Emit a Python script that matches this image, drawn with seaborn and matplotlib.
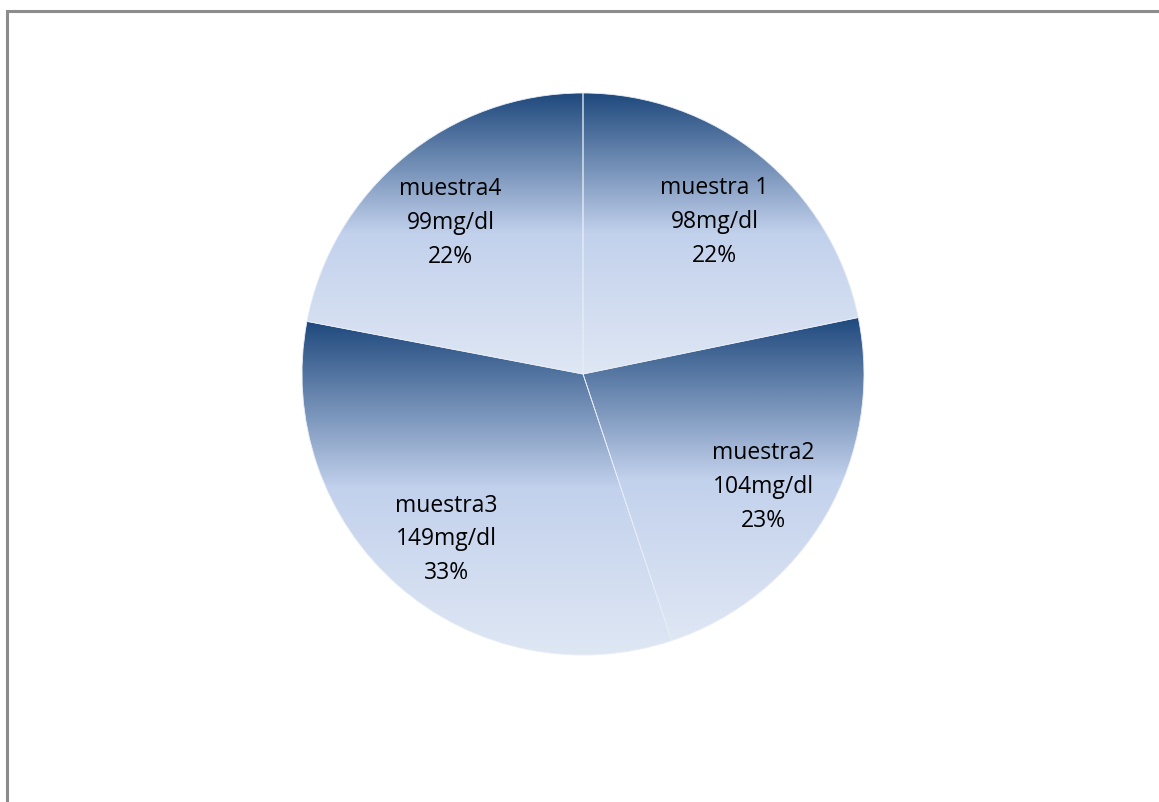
import matplotlib
matplotlib.use("Agg")
import matplotlib.pyplot as plt
import matplotlib.transforms as mtransforms
import numpy as np
import seaborn as sns

sns.set_style("white")
plt.rcParams['font.family'] = ['Open Sans', 'DejaVu Sans']

# data
samples = ['muestra 1', 'muestra2', 'muestra3', 'muestra4']
values = [98, 104, 149, 99]
units = 'mg/dl'

# vertical gradient used in each slice (dark top -> light bottom)
grad_cmap = sns.blend_palette(["#1F497D", "#C2D1EC", "#DFE7F4"], n_colors=256, as_cmap=True)

W, H = 1159, 803
fig = plt.figure(figsize=(W / 100, H / 100), dpi=100)
ax = fig.add_axes([0, 0, 1, 1])

cx, cy, r = 583, H - 375, 281
total = sum(values)
labels = [f"{s}\n{v}{units}\n{round(100 * v / total)}%" for s, v in zip(samples, values)]

wedges, texts = ax.pie(values, labels=labels, startangle=90, counterclock=False,
                       center=(cx, cy), radius=r, labeldistance=0.74,
                       wedgeprops=dict(facecolor='none', edgecolor='#E8EEF7', linewidth=0.6),
                       textprops=dict(fontsize=16.5, ha='center', va='center',
                                      linespacing=1.55, color='black'),
                       frame=True)
ax.set_xlim(0, W)
ax.set_ylim(0, H)
ax.set_aspect('equal')
ax.axis('off')

grad = np.linspace(0, 1, 256).reshape(-1, 1)
for w in wedges:
    bb = w.get_path().get_extents(w.get_patch_transform())
    im = ax.imshow(grad, cmap=grad_cmap, aspect='auto', origin='upper',
                   extent=[bb.x0, bb.x1, bb.y0, bb.y1], zorder=0.5,
                   interpolation='bilinear')
    im.set_clip_path(w)
    w.set_zorder(1)

shift = mtransforms.offset_copy(ax.transData, fig=fig, x=0, y=-8, units='dots')
for t in texts:
    t.set_ha('center')
    t.set_zorder(3)
    t.set_transform(shift)

# chart area border (top and left edges visible)
ax.plot([7, 7, W + 5], [-5, H - 12, H - 12], color='#8C8C8C', lw=2.2,
        clip_on=False, solid_joinstyle='miter')

fig.savefig("out.png", dpi=100, facecolor='white')
